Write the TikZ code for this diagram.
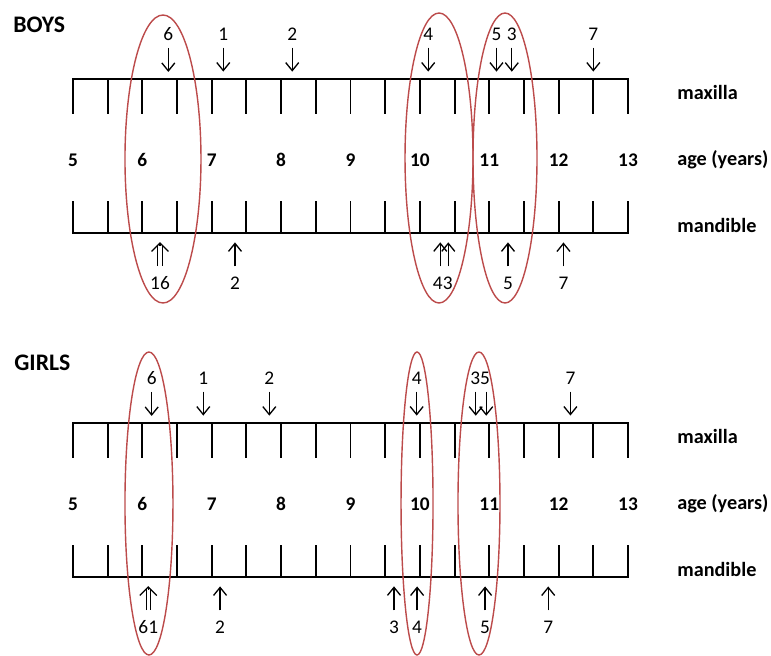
\documentclass[tikz,border=0pt]{standalone}
\usepackage{fontspec}
\setmainfont{Carlito}
\usetikzlibrary{arrows.meta}
\definecolor{zonered}{HTML}{BC4B4B}
\tikzset{
  % righello
  ruler/.style={line width=1.1pt, black, line cap=rect},
  % frecce
  arr/.style={line width=0.75pt, -{Straight Barb[length=1.6mm, width=2.6mm]}},
  dblarr/.style={line width=0.6pt, double, double distance=1.8pt},
  dblhead/.style={line width=0.75pt, -{Straight Barb[length=1.7mm, width=3.4mm]}},
  % zone evidenziate
  zone/.style={draw=zonered, line width=0.8pt},
  % etichette
  paneltitle/.style={font=\fontsize{13.5}{16}\selectfont\bfseries, anchor=west, inner sep=0pt},
  rowlbl/.style={font=\fontsize{11.5}{14}\selectfont\bfseries, anchor=west, inner sep=0pt},
  agelbl/.style={font=\fontsize{11}{13}\selectfont\bfseries},
  numlbl/.style={font=\fontsize{11}{13}\selectfont, inner sep=0pt},
}
\begin{document}
\begin{tikzpicture}
  \useasboundingbox (0,0) rectangle (15.42,-13.1);
  \node[paneltitle] (boys) at (0.26,-0.5) {BOYS};
  \node[paneltitle] (girls) at (0.28,-7.26) {GIRLS};
  % ragazzi
  \begin{scope}[x=1.3875cm, xshift=-5.4775cm]
    \draw[ruler] (5,-1.58) -- (13,-1.58);
    \foreach \a in {5,5.5,...,13} \draw[ruler] (\a,-1.58) -- (\a,-2.26);
    \foreach \a in {5,...,13} \node[agelbl] (bage\a) at (\a,-3.2) {\a};
    \draw[ruler] (5,-4.66) -- (13,-4.66);
    \foreach \a in {5,5.5,...,13} \draw[ruler] (\a,-4.66) -- (\a,-4.04);
    \node[rowlbl] (bmax) at (13.706,-1.84) {maxilla};
    \node[rowlbl] (bage) at (13.706,-3.2) {age (years)};
    \node[rowlbl] (bmand) at (13.706,-4.5) {mandible};
    % mascella
    \foreach \n/\a in {6/6.374, 1/7.166, 2/8.16, 4/10.12, 5/11.104, 3/11.325, 7/12.5} {
      \node[numlbl] (bm\n) at (\a,-0.68) {\n};
      \draw[arr] (bm\n.south) ++(0,-0.14) -- ++(0,-0.48);
    }
    % mandibola
    \node[numlbl] (bd16) at (6.254,-5.66) {16};
    \draw[dblarr] (bd16.north) ++(0,0.2) -- ++(0,0.42);
    \draw[dblhead] (bd16.north) ++(0,0.6) -- ++(0,0.08);
    \node[numlbl] (bd2) at (7.335,-5.66) {2};
    \draw[arr] (bd2.north) ++(0,0.2) -- ++(0,0.48);
    \node[numlbl] (bd43) at (10.33,-5.66) {43};
    \draw[arr] ([xshift=-0.05cm]bd43.north) ++(0,0.2) -- ++(0,0.48);
    \draw[arr] ([xshift=0.11cm]bd43.north) ++(0,0.2) -- ++(0,0.48);
    \node[numlbl] (bd5) at (11.27,-5.66) {5};
    \draw[arr] (bd5.north) ++(0,0.2) -- ++(0,0.48);
    \node[numlbl] (bd7) at (12.07,-5.66) {7};
    \draw[arr] (bd7.north) ++(0,0.2) -- ++(0,0.48);
    \draw[zone] (6.297,-3.18) ellipse [x radius=0.76cm, y radius=2.88cm];
    \draw[zone] (10.276,-3.16) ellipse [x radius=0.68cm, y radius=2.9cm];
    \draw[zone] (11.227,-3.16) ellipse [x radius=0.64cm, y radius=2.9cm];
  \end{scope}
  % ragazze
  \begin{scope}[x=1.3875cm, xshift=-5.4775cm, yshift=-6.88cm]
    \draw[ruler] (5,-1.58) -- (13,-1.58);
    \foreach \a in {5,5.5,...,13} \draw[ruler] (\a,-1.58) -- (\a,-2.26);
    \foreach \a in {5,...,13} \node[agelbl] (gage\a) at (\a,-3.2) {\a};
    \draw[ruler] (5,-4.66) -- (13,-4.66);
    \foreach \a in {5,5.5,...,13} \draw[ruler] (\a,-4.66) -- (\a,-4.04);
    \node[rowlbl] (gmax) at (13.706,-1.85) {maxilla};
    \node[rowlbl] (gage) at (13.706,-3.2) {age (years)};
    \node[rowlbl] (gmand) at (13.706,-4.5) {mandible};
    % mascella
    \foreach \n/\a in {6/6.134, 1/6.878, 2/7.83, 4/9.954, 7/12.17} {
      \node[numlbl] (gm\n) at (\a,-0.68) {\n};
      \draw[arr] (gm\n.south) ++(0,-0.14) -- ++(0,-0.48);
    }
    \node[numlbl] (gm35) at (10.87,-0.68) {35};
    \draw[arr] ([xshift=-0.09cm]gm35.south) ++(0,-0.14) -- ++(0,-0.48);
    \draw[arr] ([xshift=0.12cm]gm35.south) ++(0,-0.14) -- ++(0,-0.48);
    % mandibola
    \node[numlbl] (gd61) at (6.085,-5.66) {61};
    \draw[dblarr] (gd61.north) ++(0,0.2) -- ++(0,0.42);
    \draw[dblhead] (gd61.north) ++(0,0.6) -- ++(0,0.08);
    \foreach \n/\a in {2/7.12, 3/9.627, 4/9.96, 5/10.94, 7/11.85} {
      \node[numlbl] (gd\n) at (\a,-5.66) {\n};
      \draw[arr] (gd\n.north) ++(0,0.2) -- ++(0,0.48);
    }
    \draw[zone] (6.095,-3.19) ellipse [x radius=0.48cm, y radius=3.03cm];
    \draw[zone] (9.959,-3.19) ellipse [x radius=0.32cm, y radius=3.03cm];
    \draw[zone] (10.852,-3.19) ellipse [x radius=0.42cm, y radius=3.03cm];
  \end{scope}
\end{tikzpicture}
\end{document}
